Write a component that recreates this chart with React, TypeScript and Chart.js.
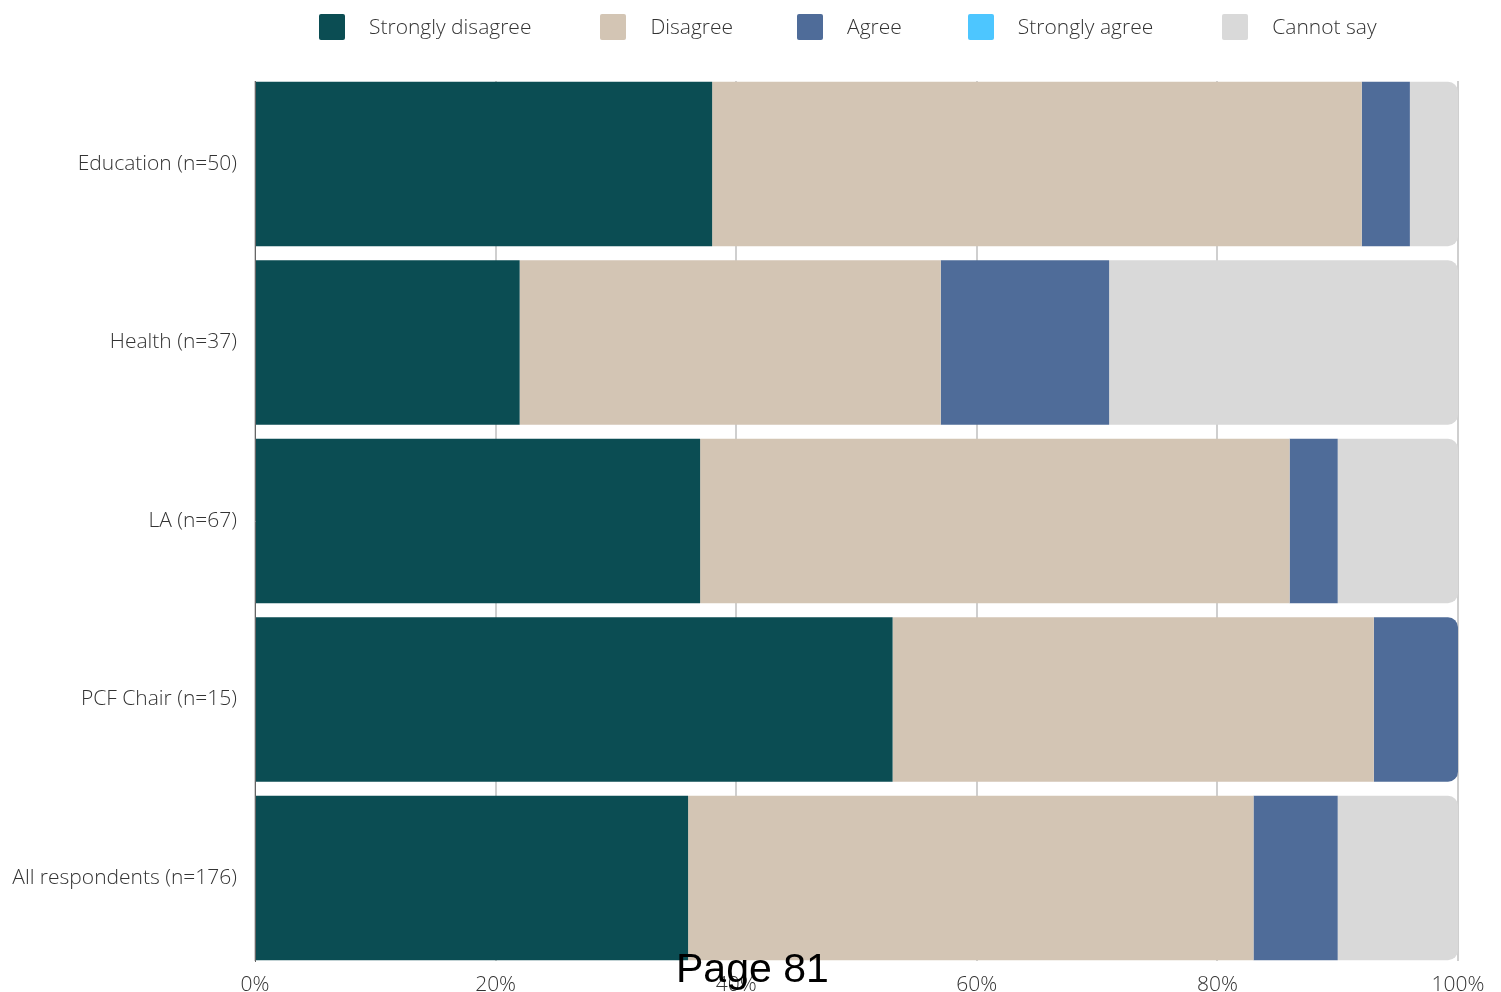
import React, { useEffect, useRef } from "react";
import { Chart, registerables } from "chart.js";

Chart.register(...registerables);

const categories = [
  "Education (n=50)",
  "Health (n=37)",
  "LA (n=67)",
  "PCF Chair (n=15)",
  "All respondents (n=176)",
];
const stronglyDisagree = [38, 22, 37, 53, 36];
const disagree = [54, 35, 49, 40, 47];
const agree = [4, 14, 4, 7, 7];
const stronglyAgree = [0, 0, 0, 0, 0];
const cannotSay = [4, 29, 10, 0, 10];
const xTickValues = [0, 20, 40, 60, 80, 100];

const seriesNames = ["Strongly disagree", "Disagree", "Agree", "Strongly agree", "Cannot say"];
const seriesColors = ["#0b4d53", "#d3c5b4", "#4f6c99", "#4dc6ff", "#d9d9d9"];
const seriesValues = [stronglyDisagree, disagree, agree, stronglyAgree, cannotSay];

const FONT = '"Open Sans", "Noto Sans", sans-serif';
const TEXT = "#333333";
const legendGaps = [69, 64, 66, 69, 0];

export default function App() {
  const canvasRef = useRef<HTMLCanvasElement | null>(null);

  useEffect(() => {
    document.body.style.margin = "0";
    document.body.style.overflow = "hidden";
    const canvas = canvasRef.current;
    if (!canvas) return;
    const chart = new Chart(canvas, {
      type: "bar",
      data: {
        datasets: seriesValues.map((vals, k) => ({
          label: seriesNames[k],
          data: vals.map((v, i) => ({ x: v, y: i })),
          backgroundColor: seriesColors[k],
          borderWidth: 0,
          borderRadius: 10,
          categoryPercentage: 1,
          barPercentage: 0.9216,
        })),
      },
      options: {
        indexAxis: "y",
        responsive: false,
        animation: false,
        events: [],
        layout: { padding: { top: 81, right: 43, bottom: 0, left: 0 } },
        plugins: {
          legend: { display: false },
          tooltip: { enabled: false },
        },
        scales: {
          x: {
            type: "linear",
            stacked: true,
            min: 0,
            max: 100,
            afterBuildTicks: (s: any) => {
              s.ticks = xTickValues.map((v) => ({ value: v }));
            },
            afterFit: (s: any) => {
              s.height = 31;
            },
            grid: { color: "#cfcfcf", lineWidth: 2, drawTicks: false },
            border: { display: false },
            ticks: {
              padding: 11,
              color: TEXT,
              font: { family: FONT, size: 21, weight: "300" as any },
              callback: (v: any) => v + "%",
            },
          },
          y: {
            type: "linear",
            stacked: true,
            reverse: true,
            offset: false,
            min: -0.465,
            max: 4.465,
            z: 1,
            afterFit: (s: any) => {
              s.width = 255;
            },
            grid: { display: false, drawTicks: false, offset: false },
            border: { display: true, color: "#666666", width: 1 },
            ticks: {
              stepSize: 1,
              includeBounds: false,
              padding: 18,
              color: TEXT,
              font: { family: FONT, size: 21, weight: "300" as any },
              callback: (v: any) => {
                const idx = Math.round(Number(v));
                return Math.abs(Number(v) - idx) < 1e-6 && categories[idx] ? categories[idx] : "";
              },
            },
          },
        },
      },
    });
    return () => chart.destroy();
  }, []);

  return (
    <div style={{ position: "relative", width: 1501, height: 992, overflow: "hidden", background: "#fff" }}>
      <canvas ref={canvasRef} width={1501} height={992} style={{ display: "block" }} />
      <div
        style={{
          position: "absolute",
          left: 319,
          top: 14,
          display: "flex",
          alignItems: "center",
          fontFamily: FONT,
          fontWeight: 300,
          fontSize: 21,
          color: TEXT,
          whiteSpace: "nowrap",
        }}
      >
        {seriesNames.map((name, k) => (
          <div
            key={name}
            style={{ display: "flex", alignItems: "center", marginRight: legendGaps[k] }}
          >
            <span
              style={{
                display: "inline-block",
                width: 26,
                height: 26,
                borderRadius: 2,
                background: seriesColors[k],
                marginRight: 24,
              }}
            />
            <span style={{ lineHeight: "26px", position: "relative", top: -1 }}>{name}</span>
          </div>
        ))}
      </div>
      <div
        style={{
          position: "absolute",
          left: 676,
          top: 948,
          fontFamily: '"Liberation Sans", Arial, sans-serif',
          fontSize: 41,
          lineHeight: 1,
          color: "#000",
          whiteSpace: "nowrap",
        }}
      >
        Page 81
      </div>
    </div>
  );
}
